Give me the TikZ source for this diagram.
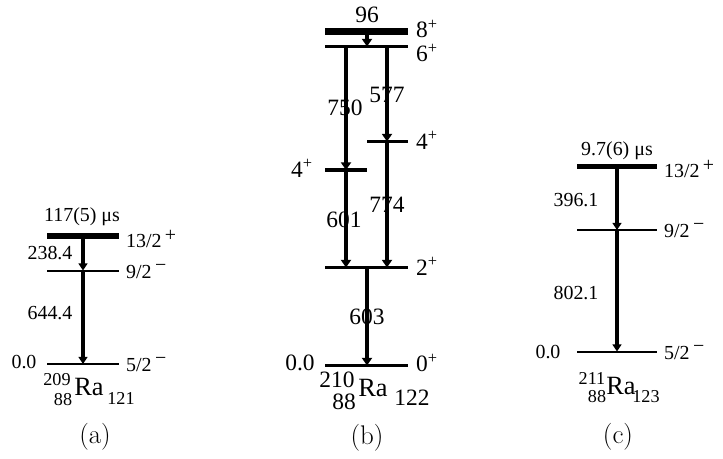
\documentclass[tikz,border=0pt]{standalone}
\usepackage{fontspec}
\newfontfamily\tms{Liberation Serif}
\usetikzlibrary{arrows.meta}
\tikzset{
  lvl/.style={line width=1.7pt},
  isolvl/.style={line width=4.4pt},
  blvl/.style={line width=3.4pt},
  topblvl/.style={line width=6pt},
  gam/.style={line width=3pt, -{Triangle[length=6pt,width=7.5pt]}},
  bgam/.style={line width=3.6pt, -{Triangle[length=6.5pt,width=8.5pt]}},
  txt/.style={font=\tms\fontsize{17}{19}\selectfont, inner sep=0pt},
  btxt/.style={font=\tms\fontsize{20}{22}\selectfont, inner sep=0pt},
  nsub/.style={font=\tms\fontsize{15.5}{16}\selectfont, inner sep=0pt},
  nra/.style={font=\tms\fontsize{22.5}{24}\selectfont, inner sep=0pt},
  subcap/.style={font=\fontsize{23}{25}\selectfont, inner sep=0pt}
}
\newcommand{\pl}{\,\raisebox{5pt}{+}}
\newcommand{\mi}{\,\raisebox{6pt}{−}}

\begin{document}
\begin{tikzpicture}[x=0.3mm, y=-0.3mm]
  \useasboundingbox (0,0) rectangle (723,458);

  % (a) 209Ra
  \coordinate (a13) at (83,236);
  \coordinate (a9) at (83,270.5);
  \coordinate (a0) at (83,364);
  \draw[isolvl] (47,236) -- (119,236);
  \draw[lvl] (47,270.5) -- (119,270.5);
  \draw[lvl] (47,364) -- (119,364);
  \draw[gam] (a13) -- (a9);
  \draw[gam] (a9) -- (a0);
  \node[txt] (atau) at (82,217) {117(5) μs};
  \node[txt, anchor=west] (as13) at (126,239) {13/2\pl};
  \node[txt, anchor=west] (as9) at (126,272) {9/2\mi};
  \node[txt, anchor=west] (as5) at (126,365) {5/2\mi};
  \node[txt] (ag238) at (50,253) {238.4};
  \node[txt] (ag644) at (50,313) {644.4};
  \node[txt] (ae0) at (24,362) {0.0};
  \node[nsub] (aA) at (57,380) {209};
  \node[nsub] (aZ) at (63,400) {88};
  \node[nra] (aRa) at (89,387) {Ra};
  \node[nsub] (aN) at (121,398) {121};
  \node[subcap] (acap) at (95,437) {(a)};

  % (b) 210Ra
  \coordinate (b8) at (367,31.5);
  \coordinate (b6) at (367,46.5);
  \coordinate (b6l) at (346,46.5);
  \coordinate (b6r) at (387,46.5);
  \coordinate (b4r) at (387,141.5);
  \coordinate (b4l) at (346,170);
  \coordinate (b2l) at (346,267.5);
  \coordinate (b2r) at (387,267.5);
  \coordinate (b2) at (367,267.5);
  \coordinate (b0) at (367,365.5);
  \draw[topblvl] (325,31.5) -- (408,31.5);
  \draw[blvl] (325,46.5) -- (408,46.5);
  \draw[blvl] (367,141.5) -- (408,141.5);
  \draw[blvl] (325,170) -- (367,170);
  \draw[blvl] (325,267.5) -- (408,267.5);
  \draw[blvl] (325,365.5) -- (408,365.5);
  \draw[bgam] (b8) -- (b6);
  \draw[bgam] (b6l) -- (b4l);
  \draw[bgam] (b4l) -- (b2l);
  \draw[bgam] (b6r) -- (b4r);
  \draw[bgam] (b4r) -- (b2r);
  \draw[bgam] (b2) -- (b0);
  \node[btxt] (bg96) at (367,15) {96};
  \node[btxt, anchor=west] (bs8) at (416,29) {8\textsuperscript{+}};
  \node[btxt, anchor=west] (bs6) at (416,53) {6\textsuperscript{+}};
  \node[btxt] (bg750) at (345,108) {750};
  \node[btxt] (bg577) at (387,95) {577};
  \node[btxt, anchor=west] (bs4r) at (416,140) {4\textsuperscript{+}};
  \node[btxt] (bs4l) at (302,168) {4\textsuperscript{+}};
  \node[btxt] (bg774) at (387,205) {774};
  \node[btxt] (bg601) at (344,220) {601};
  \node[btxt, anchor=west] (bs2) at (416,266) {2\textsuperscript{+}};
  \node[btxt] (bg603) at (367,317) {603};
  \node[btxt] (be0) at (300,363) {0.0};
  \node[btxt, anchor=west] (bs0) at (416,363) {0\textsuperscript{+}};
  \node[btxt] (bA) at (337,380) {210};
  \node[btxt] (bZ) at (344,402) {88};
  \node[nra] (bRa) at (373,388) {Ra};
  \node[btxt] (bN) at (412,398) {122};
  \node[subcap] (bcap) at (367,438) {(b)};

  % (c) 211Ra
  \coordinate (c13) at (617,166.5);
  \coordinate (c9) at (617,230);
  \coordinate (c0) at (617,351.5);
  \draw[isolvl] (577,166.5) -- (657,166.5);
  \draw[lvl] (577,230) -- (657,230);
  \draw[lvl] (577,351.5) -- (657,351.5);
  \draw[gam] (c13) -- (c9);
  \draw[gam] (c9) -- (c0);
  \node[txt] (ctau) at (617,151) {9.7(6) μs};
  \node[txt, anchor=west] (cs13) at (664,169) {13/2\pl};
  \node[txt, anchor=west] (cs9) at (664,231) {9/2\mi};
  \node[txt, anchor=west] (cs5) at (664,353) {5/2\mi};
  \node[txt] (cg396) at (576,200) {396.1};
  \node[txt] (cg802) at (576,293) {802.1};
  \node[txt] (ce0) at (548,352) {0.0};
  \node[nsub] (cA) at (592,378) {211};
  \node[nsub] (cZ) at (597,397) {88};
  \node[nra] (cRa) at (621,386) {Ra};
  \node[nsub] (cN) at (646,397) {123};
  \node[subcap] (ccap) at (618,437) {(c)};
\end{tikzpicture}
\end{document}
